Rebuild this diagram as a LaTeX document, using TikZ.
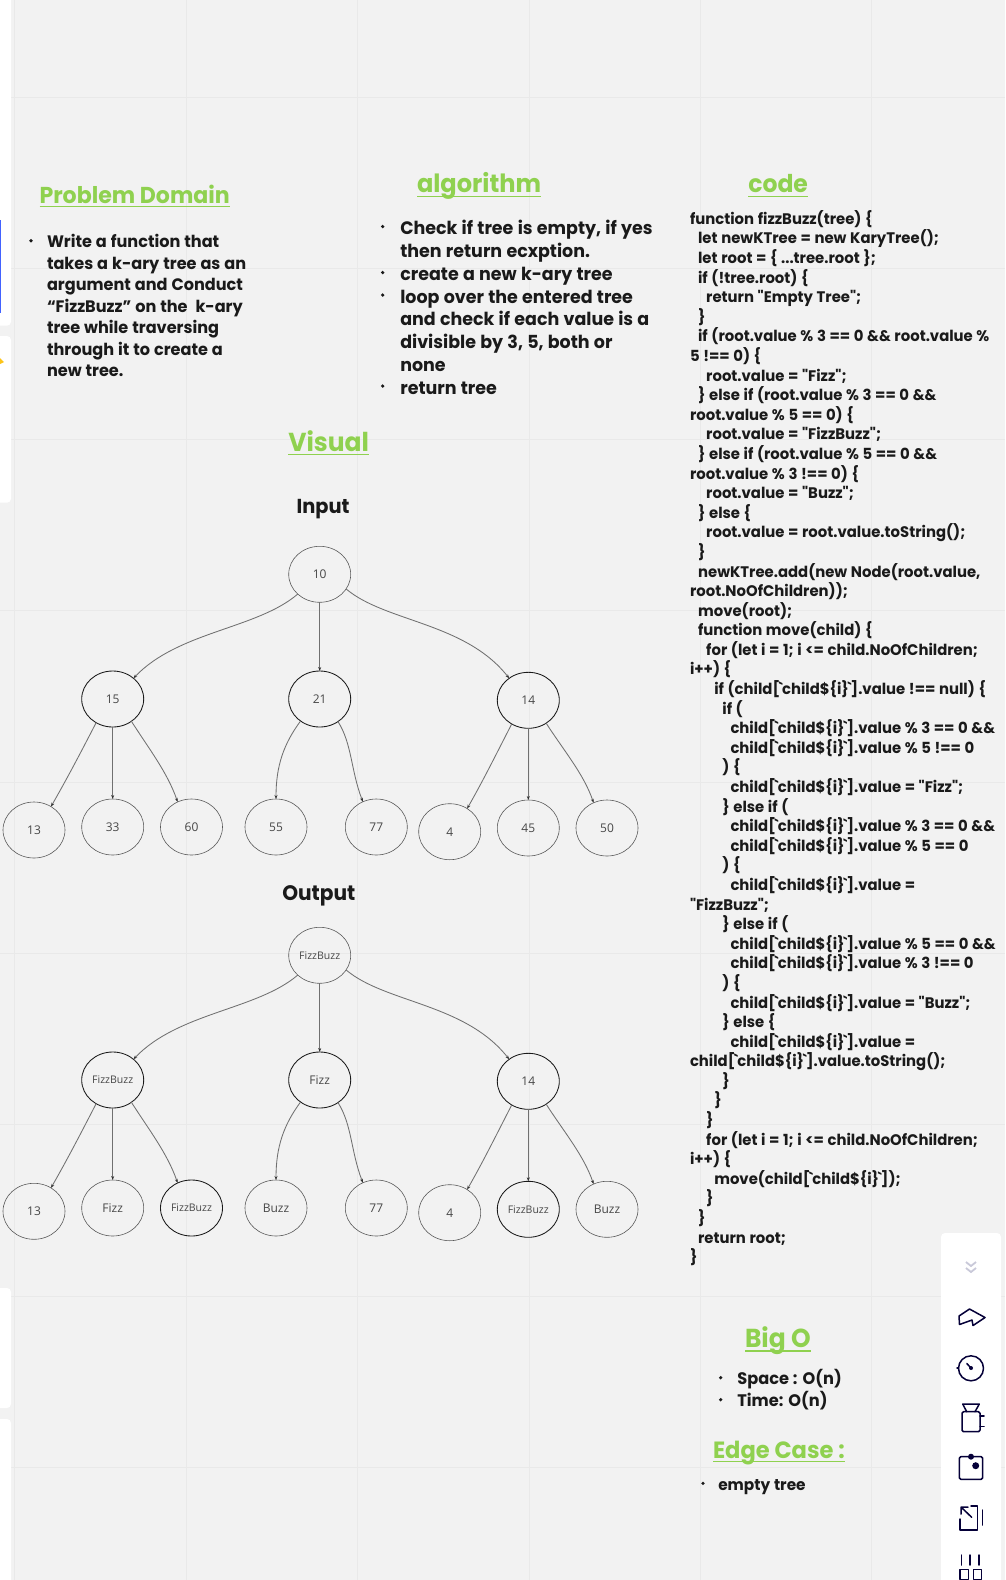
\documentclass[tikz,border=0pt]{standalone}
\usepackage{fontspec}
\usetikzlibrary{shapes.geometric,arrows.meta}
\newfontfamily\headfont{Poppins}[FakeStretch=0.96]
\newfontfamily\bodyfont{Poppins}[FakeStretch=0.97,WordSpace=1.15]
\newfontfamily\nodefont{Open Sans}
\definecolor{bgc}{HTML}{F2F2F2}
\definecolor{gridc}{HTML}{E9E9E9}
\definecolor{headc}{HTML}{8FD14F}
\definecolor{textc}{HTML}{1A1A1A}
\definecolor{navy}{HTML}{050038}
\definecolor{chev}{HTML}{C9C9D9}
\definecolor{edgec}{HTML}{707070}
\definecolor{bluec}{HTML}{4262FF}
\definecolor{yelc}{HTML}{FCC419}
\newlength{\iu}\setlength{\iu}{8.1pt}
\newcommand{\bt}{\kern-1.2pt\char96 \kern-1.2pt}
\newcommand{\cl}[2]{\hspace*{#1\iu}#2\\}
\newcommand{\ch}{child[\bt child\$\{i\}\bt]}
\newcommand{\hsz}[1]{\fontsize{#1}{#1}\selectfont}
\tikzset{
  x=1pt,y=-1pt,
  ell/.style={ellipse,draw=#1,minimum width=62pt,minimum height=56pt,inner sep=0pt,outer sep=0pt,
    font=\nodefont\fontsize{12}{14}\selectfont,text=black!72},
  thin ell/.style={ell=black!65,line width=0.6pt},
  bold ell/.style={ell=black!90,line width=0.85pt},
  small/.style={font=\nodefont\fontsize{10.5}{12}\selectfont},
  link/.style={draw=edgec,line width=0.85pt,-{Stealth[length=4pt,width=3pt,color=black!80]}},
  heading/.style={anchor=base west,inner sep=0pt,outer sep=0pt,text=headc,font=\headfont\bfseries},
  rule/.style={draw=headc,line width=1.3pt},
  sub/.style={anchor=base west,inner sep=0pt,outer sep=0pt,text=textc,font=\headfont\bfseries},
  para/.style={anchor=north west,inner sep=0pt,outer sep=0pt,align=left,text=textc},
  bul/.style={fill=textc,radius=1.8pt},
  icon/.style={draw=navy,line width=1.5pt,line join=round,line cap=round},
  panel/.style={fill=white,rounded corners=4pt,draw=none}
}
\newcommand{\treelinks}[1]{%
  \draw[link] (#1r.222) .. controls +(-41,35) and +(45,-47) .. (#1a.45);
  \draw[link] (#1r.south) -- (#1b.north);
  \draw[link] (#1r.-29) .. controls +(39,33) and +(-44,-56) .. (#1c.131);
  \draw[link] (#1a.235) .. controls +(-17,33) and +(16,-28) .. (#1a1.54);
  \draw[link] (#1a.south) -- (#1a2.north);
  \draw[link] (#1a.310) .. controls +(18,28) and +(-10,-29) .. (#1a3.119);
  \draw[link] (#1b.229) .. controls +(-17,23) and +(0,-33) .. (#1b1.north);
  \draw[link] (#1b.309) .. controls +(14,22) and +(-12,-31) .. (#1b2.118);
  \draw[link] (#1c.235) .. controls +(-17,33) and +(16,-28) .. (#1c1.53);
  \draw[link] (#1c.south) -- (#1c2.north);
  \draw[link] (#1c.308) .. controls +(18,28) and +(-10,-29) .. (#1c3.118);
}
\begin{document}
\begin{tikzpicture}
\useasboundingbox (0,0) rectangle (1005,1580);
\clip (0,0) rectangle (1005,1580);
\fill[bgc] (0,0) rectangle (1005,1580);
% grid
\foreach \gx in {14.5,186,357.5,529,700,871} \draw[gridc,line width=1pt] (\gx,0) -- (\gx,1580);
\foreach \gy in {97,268,439.4,610.7,782,953,1124,1296,1467} \draw[gridc,line width=1pt] (0,\gy) -- (1005,\gy);
% left panels
\fill[panel] (-10,-10) rectangle (11,325.7);
\fill[panel] (-10,336) rectangle (11,502.7);
\fill[panel] (-10,1288) rectangle (11,1408);
\fill[panel] (-10,1419) rectangle (11,1620);
\fill[bluec] (0,220) rectangle (1.2,313);
\fill[yelc] (0,358) -- (4,362) -- (0,364) -- cycle;
% right toolbar
\fill[panel] (941,1233) rectangle (1001,1640);
\draw[chev,line width=1.8pt] (966,1262) -- (971,1266) -- (976,1262) (966,1268) -- (971,1272) -- (976,1268);
\draw[icon] (959,1316) -- (969.5,1309) -- (985,1317.5) -- (973,1325.5) -- (972,1320) -- (959.5,1324.5) -- cycle;
\draw[icon] (971,1368.3) circle[radius=12.5pt];
\draw[icon] (957,1368) -- (958.5,1368);
\draw[icon] (971,1368) -- (966.8,1363.5);
\fill[navy] (971,1368) circle[radius=2pt];
\draw[icon] (966.7,1411.7) -- (962.7,1404) -- (979.3,1404) -- (975,1411.7);
\draw[icon,rounded corners=1.5pt] (962,1411.7) rectangle (980,1431.7);
\draw[icon] (980,1416) -- (984,1416) (980,1426.7) -- (984,1426.7);
\draw[icon,rounded corners=1.5pt] (959.3,1456.7) rectangle (982.7,1479.3);
\fill[navy] (971,1456.7) circle[radius=3pt];
\fill[navy] (975.7,1465.7) circle[radius=3.5pt];
\draw[icon] (960,1519) -- (960,1530) -- (977.7,1530) -- (977.7,1506) -- (971,1506);
\draw[icon] (971.7,1517.3) -- (961.5,1507.5) (961,1514) -- (961,1507) -- (968,1507);
\draw[icon] (982.3,1510) -- (982.3,1525);
\draw[icon] (961.7,1555) -- (961.7,1565) (970,1555) -- (970,1565) (979,1555) -- (979,1565);
\draw[icon] (960,1569.3) rectangle (968.3,1579.3) (973.3,1569.3) rectangle (981.7,1579.3);

% headings
\node[heading] (hpd) at (39.5,203) {\hsz{23}Problem Domain};
\draw[rule] ([yshift=-3.7pt]hpd.base west) -- ([yshift=-3.7pt]hpd.base east);
\node[heading] (halg) at (417,192.7) {\hsz{25.1}algorithm};
\draw[rule] ([yshift=-3.7pt]halg.base west) -- ([yshift=-3.7pt]halg.base east);
\node[heading] (hcode) at (748.3,192.7) {\hsz{24.5}code};
\draw[rule] ([yshift=-3.7pt]hcode.base west) -- ([yshift=-3.7pt]hcode.base east);
\node[heading] (hvis) at (288.3,451) {\hsz{26}Visual};
\draw[rule] ([yshift=-3.2pt]hvis.base west) -- ([yshift=-3.2pt]hvis.base east);
\node[heading] (hbig) at (745,1347.3) {\hsz{26}Big O};
\draw[rule] ([yshift=-3.7pt]hbig.base west) -- ([yshift=-3.7pt]hbig.base east);
\node[heading] (hedge) at (713,1458.7) {\hsz{23.5}Edge Case :};
\draw[rule] ([yshift=-3pt]hedge.base west) -- ([yshift=-3pt]hedge.base east);
\node[sub] (tin) at (296.7,513.3) {\hsz{20.2}Input};
\node[sub] (tout) at (282.3,900.7) {\hsz{21}Output};

% problem domain
\fill[bul] (31,240.7) circle;
\node[para,font=\bodyfont\bfseries\fontsize{16.6}{21.5}\selectfont] (tpd) at (47,234.5)
 {Write a function that\\ takes a k-ary tree as an\\ argument and Conduct\\ “FizzBuzz” on the\ \ k-ary\\ tree while traversing\\ through it to create a\\ new tree.};
% algorithm
\fill[bul] (382.7,226.5) circle;
\fill[bul] (382.7,272.5) circle;
\fill[bul] (382.7,295) circle;
\fill[bul] (382.7,386) circle;
\node[para,font=\bodyfont\bfseries\fontsize{18}{22.86}\selectfont] (talg) at (400.3,220)
 {Check if tree is empty, if yes\\ then return ecxption.\\ create a new k-ary tree\\ loop over the entered tree\\ and check if each value is a\\ divisible by 3, 5, both or\\ none\\ return tree};
% big O
\fill[bul] (720.7,1377.7) circle;
\fill[bul] (720.7,1399.7) circle;
\node[para,font=\bodyfont\bfseries\fontsize{16.7}{22}\selectfont] (tbig) at (737.3,1369.5) {Space : O(n)\\ Time: O(n)};
% edge case
\fill[bul] (703,1483.3) circle;
\node[para,font=\bodyfont\bfseries\fontsize{15.8}{20}\selectfont] (tedge) at (718.3,1479.5) {empty tree};
% code
\node[para,font=\bodyfont\bfseries\fontsize{15.3}{19.59}\selectfont] (tcode) at (690,210.4) {%
\cl{0}{function fizzBuzz(tree) \{}
\cl{1}{let newKTree = new KaryTree();}
\cl{1}{let root = \{ ...tree.root \};}
\cl{1}{if (!tree.root) \{}
\cl{2}{return "Empty Tree";}
\cl{1}{\}}
\cl{1}{if (root.value \% 3 == 0 \&\& root.value \%}
\cl{0}{5 !== 0) \{}
\cl{2}{root.value = "Fizz";}
\cl{1}{\} else if (root.value \% 3 == 0 \&\&}
\cl{0}{root.value \% 5 == 0) \{}
\cl{2}{root.value = "FizzBuzz";}
\cl{1}{\} else if (root.value \% 5 == 0 \&\&}
\cl{0}{root.value \% 3 !== 0) \{}
\cl{2}{root.value = "Buzz";}
\cl{1}{\} else \{}
\cl{2}{root.value = root.value.toString();}
\cl{1}{\}}
\cl{1}{newKTree.add(new Node(root.value,}
\cl{0}{root.NoOfChildren));}
\cl{1}{move(root);}
\cl{1}{function move(child) \{}
\cl{2}{for (let i = 1; i <= child.NoOfChildren;}
\cl{0}{i++) \{}
\cl{3}{if (\ch.value !== null) \{}
\cl{4}{if (}
\cl{5}{\ch.value \% 3 == 0 \&\&}
\cl{5}{\ch.value \% 5 !== 0}
\cl{4}{) \{}
\cl{5}{\ch.value = "Fizz";}
\cl{4}{\} else if (}
\cl{5}{\ch.value \% 3 == 0 \&\&}
\cl{5}{\ch.value \% 5 == 0}
\cl{4}{) \{}
\cl{5}{\ch.value =}
\cl{0}{"FizzBuzz";}
\cl{4}{\} else if (}
\cl{5}{\ch.value \% 5 == 0 \&\&}
\cl{5}{\ch.value \% 3 !== 0}
\cl{4}{) \{}
\cl{5}{\ch.value = "Buzz";}
\cl{4}{\} else \{}
\cl{5}{\ch.value =}
\cl{0}{\ch.value.toString();}
\cl{4}{\}}
\cl{3}{\}}
\cl{2}{\}}
\cl{2}{for (let i = 1; i <= child.NoOfChildren;}
\cl{0}{i++) \{}
\cl{3}{move(\ch);}
\cl{2}{\}}
\cl{1}{\}}
\cl{1}{return root;}
\hspace*{0pt}\}};

% input tree
\node[thin ell] (ir) at (319.7,574.3) {10};
\node[bold ell] (ia) at (112.7,699) {15};
\node[bold ell] (ib) at (319.7,699) {21};
\node[bold ell] (ic) at (528.3,700.3) {14};
\node[thin ell] (ia1) at (34,830) {13};
\node[thin ell] (ia2) at (112.7,827) {33};
\node[thin ell] (ia3) at (191.5,827) {60};
\node[thin ell] (ib1) at (276,827) {55};
\node[thin ell] (ib2) at (376.3,827) {77};
\node[thin ell] (ic1) at (449.7,831.7) {4};
\node[thin ell] (ic2) at (528.3,828) {45};
\node[thin ell] (ic3) at (607,828) {50};
\treelinks{i}
% output tree
\node[thin ell,small] (or) at (319.7,955.3) {FizzBuzz};
\node[bold ell,small] (oa) at (112.7,1080) {FizzBuzz};
\node[bold ell] (ob) at (319.7,1080) {Fizz};
\node[bold ell] (oc) at (528.3,1081.3) {14};
\node[thin ell] (oa1) at (34,1211.3) {13};
\node[thin ell] (oa2) at (112.7,1208) {Fizz};
\node[bold ell,small] (oa3) at (191.5,1208) {FizzBuzz};
\node[thin ell] (ob1) at (276,1208) {Buzz};
\node[thin ell] (ob2) at (376.3,1208) {77};
\node[thin ell] (oc1) at (449.7,1212.7) {4};
\node[bold ell,small] (oc2) at (528.3,1209.3) {FizzBuzz};
\node[thin ell] (oc3) at (607,1209.3) {Buzz};
\treelinks{o}
\end{tikzpicture}
\end{document}
